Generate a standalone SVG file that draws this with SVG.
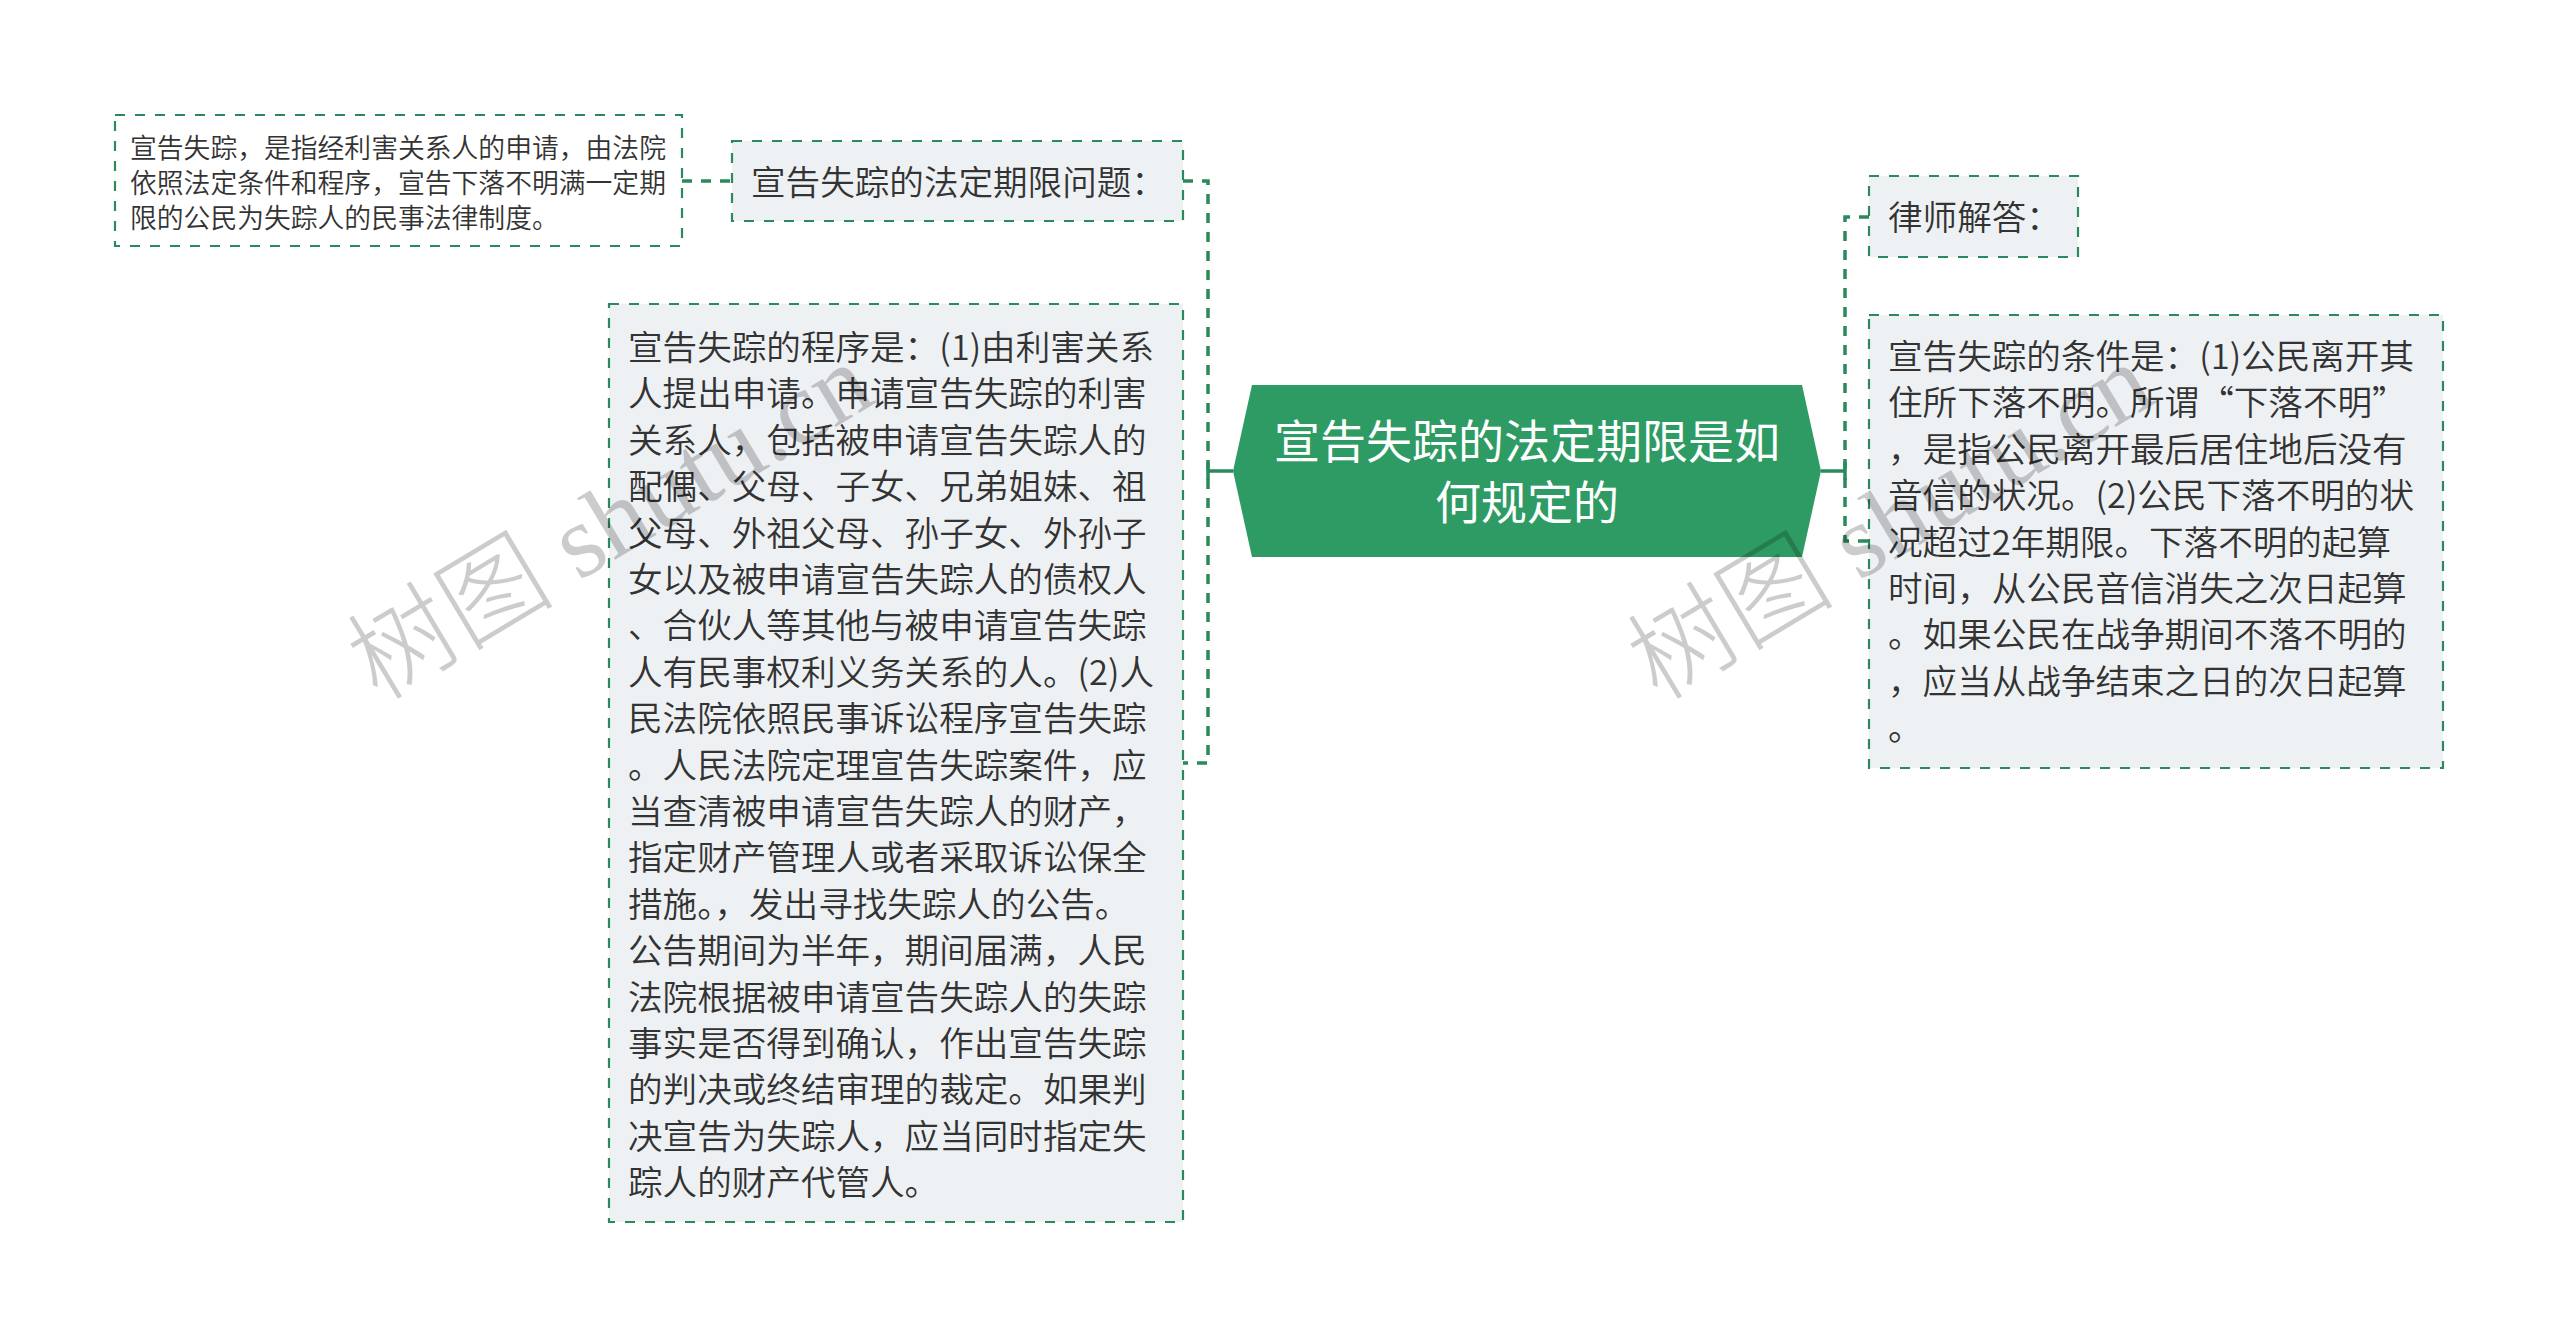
<svg xmlns="http://www.w3.org/2000/svg" width="2560" height="1334" viewBox="0 0 2560 1334">
<defs>
<style>
.box{fill:#EEF1F4;stroke:#2B8A5B;stroke-width:2.2;stroke-dasharray:10 10;}
.box-w{fill:#FFFFFF;stroke:#2B8A5B;stroke-width:2.2;stroke-dasharray:10 10;}
.t{font-family:"Noto Sans CJK SC","Noto Sans",sans-serif;font-weight:350;fill:#333333;}
.t35{font-size:34.6px;}
.t27{font-size:26.8px;}
.root{fill:#2D9B63;}
.rt{font-family:"Noto Sans CJK SC","Noto Sans",sans-serif;font-weight:400;font-size:46px;fill:#FFFFFF;text-anchor:middle;}
.dash{fill:none;stroke:#2B8A5B;stroke-width:3.5;stroke-dasharray:10 9;}
.solid{fill:none;stroke:#2B8A5B;stroke-width:3.5;}
.wm{font-family:"Liberation Serif","Noto Sans CJK SC",serif;font-weight:300;font-size:104px;fill:#000000;fill-opacity:0.2;}
</style>
</defs>
<rect x="0" y="0" width="2560" height="1334" fill="#FFFFFF"/>

<g id="connectors">
<path class="dash" d="M682,181 H732"/>
<path class="dash" d="M1183,181 H1208 V763 H1183"/>
<path class="solid" d="M1233,471 H1208 M1208,462 V480"/>
<path class="dash" d="M1869,217 H1845 V541 H1869"/>
<path class="solid" d="M1821,471 H1845 M1845,462 V480"/>
</g>

<g id="node-root">
<polygon class="root" points="1252,385 1802,385 1821,471 1802,557 1252,557 1233,471"/>
<text class="rt" x="1527" y="458">宣告失踪的法定期限是如</text>
<text class="rt" x="1527" y="519">何规定的</text>
</g>

<g id="node-definition">
<rect class="box-w" x="115" y="115" width="567" height="131"/>
<text class="t t27" x="130" y="158">宣告失踪，是指经利害关系人的申请，由法院</text>
<text class="t t27" x="130" y="193">依照法定条件和程序，宣告下落不明满一定期</text>
<text class="t t27" x="130" y="228">限的公民为失踪人的民事法律制度。</text>
</g>

<g id="node-question">
<rect class="box" x="732" y="141" width="451" height="80"/>
<text class="t t35" x="751" y="195">宣告失踪的法定期限问题：</text>
</g>

<g id="node-procedure">
<rect class="box" x="609" y="304" width="574" height="918"/>
<text class="t t35" x="628" y="360">
<tspan x="628" dy="0">宣告失踪的程序是：(1)由利害关系</tspan>
<tspan x="628" dy="46.4">人提出申请。申请宣告失踪的利害</tspan>
<tspan x="628" dy="46.4">关系人，包括被申请宣告失踪人的</tspan>
<tspan x="628" dy="46.4">配偶、父母、子女、兄弟姐妹、祖</tspan>
<tspan x="628" dy="46.4">父母、外祖父母、孙子女、外孙子</tspan>
<tspan x="628" dy="46.4">女以及被申请宣告失踪人的债权人</tspan>
<tspan x="628" dy="46.4">、合伙人等其他与被申请宣告失踪</tspan>
<tspan x="628" dy="46.4">人有民事权利义务关系的人。(2)人</tspan>
<tspan x="628" dy="46.4">民法院依照民事诉讼程序宣告失踪</tspan>
<tspan x="628" dy="46.4">。人民法院定理宣告失踪案件，应</tspan>
<tspan x="628" dy="46.4">当查清被申请宣告失踪人的财产，</tspan>
<tspan x="628" dy="46.4">指定财产管理人或者采取诉讼保全</tspan>
<tspan x="628" dy="46.4">措施。，发出寻找失踪人的公告。</tspan>
<tspan x="628" dy="46.4">公告期间为半年，期间届满，人民</tspan>
<tspan x="628" dy="46.4">法院根据被申请宣告失踪人的失踪</tspan>
<tspan x="628" dy="46.4">事实是否得到确认，作出宣告失踪</tspan>
<tspan x="628" dy="46.4">的判决或终结审理的裁定。如果判</tspan>
<tspan x="628" dy="46.4">决宣告为失踪人，应当同时指定失</tspan>
<tspan x="628" dy="46.4">踪人的财产代管人。</tspan>
</text>
</g>

<g id="node-lawyer">
<rect class="box" x="1869" y="176" width="209" height="81"/>
<text class="t t35" x="1888" y="230">律师解答：</text>
</g>

<g id="node-conditions">
<rect class="box" x="1869" y="315" width="574" height="453"/>
<text class="t t35" x="1888" y="369">
<tspan x="1888" dy="0">宣告失踪的条件是：(1)公民离开其</tspan>
<tspan x="1888" dy="46.4">住所下落不明。所谓“下落不明”</tspan>
<tspan x="1888" dy="46.4">，是指公民离开最后居住地后没有</tspan>
<tspan x="1888" dy="46.4">音信的状况。(2)公民下落不明的状</tspan>
<tspan x="1888" dy="46.4">况超过2年期限。下落不明的起算</tspan>
<tspan x="1888" dy="46.4">时间，从公民音信消失之次日起算</tspan>
<tspan x="1888" dy="46.4">。如果公民在战争期间不落不明的</tspan>
<tspan x="1888" dy="46.4">，应当从战争结束之日的次日起算</tspan>
<tspan x="1888" dy="46.4">。</tspan>
</text>
</g>

<g id="watermarks">
<text class="wm" transform="translate(378,702) rotate(-31)">树图 shutu.cn</text>
<text class="wm" transform="translate(1658,702) rotate(-31)">树图 shutu.cn</text>
</g>
</svg>
